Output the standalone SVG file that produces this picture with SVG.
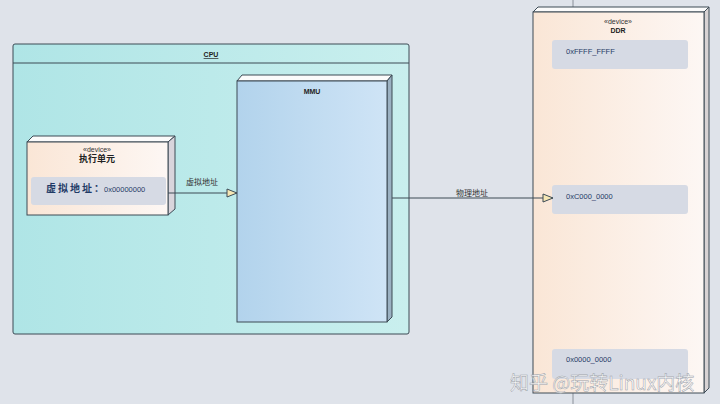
<svg xmlns="http://www.w3.org/2000/svg" width="720" height="404" viewBox="0 0 720 404">
<defs>
<linearGradient id="gCpu" x1="0" y1="0" x2="1" y2="0"><stop offset="0" stop-color="#afe5e6"/><stop offset="1" stop-color="#c9efee"/></linearGradient>
<linearGradient id="gMmu" x1="0" y1="0" x2="1" y2="0"><stop offset="0" stop-color="#b2d3ec"/><stop offset="1" stop-color="#cfe4f6"/></linearGradient>
<linearGradient id="gDev" x1="0" y1="0" x2="1" y2="0"><stop offset="0" stop-color="#fae6d6"/><stop offset="1" stop-color="#fdf7f4"/></linearGradient>
<marker id="tri" markerWidth="12" markerHeight="10" refX="11" refY="5" orient="auto" markerUnits="userSpaceOnUse"><path d="M1,1 L11,5 L1,9 Z" fill="#f6e7b4" stroke="#3c4a55" stroke-width="1"/></marker>
<style>
.edge{stroke:#3c4a55;stroke-width:1;fill:none}
.top{fill:#fbfbfb;stroke:#3c4a55;stroke-width:1}
.side{stroke:#3c4a55;stroke-width:1}
.s{font-family:"Liberation Sans","Noto Sans CJK SC",sans-serif;font-size:7px;fill:#333;text-anchor:middle}
.b{font-family:"Noto Sans CJK SC","Liberation Sans",sans-serif;font-weight:bold;fill:#222;text-anchor:middle}
.slot{fill:#d6dae4}
.addr{font-family:"Liberation Sans",sans-serif;font-size:7.5px;fill:#1f3a66}
.lbl{font-family:"Noto Sans CJK SC",sans-serif;font-size:8px;fill:#333;text-anchor:middle}
</style>
</defs>
<rect width="720" height="404" fill="#dfe3ea"/>
<line x1="573" y1="0" x2="573" y2="8" stroke="#8a9099"/>
<line x1="573" y1="393" x2="573" y2="404" stroke="#8a9099"/>

<g id="cpu">
<rect x="13" y="44" width="396" height="290" rx="2" fill="url(#gCpu)" stroke="#3c4a55"/>
<line x1="13" y1="63" x2="409" y2="63" stroke="#3c4a55"/>
<text x="211" y="57" font-family="Liberation Sans,sans-serif" font-size="7px" font-weight="bold" fill="#222" text-anchor="middle" text-decoration="underline">CPU</text>
</g>

<g id="mmu">
<path d="M237,81 L242,75 L392,75 L387,81 Z" class="top"/>
<path d="M387,81 L392,75 L392,317 L387,322 Z" fill="#9bb1c2" class="side"/>
<rect x="237" y="81" width="150" height="241" fill="url(#gMmu)" stroke="#3c4a55"/>
<text x="312" y="94" font-family="Liberation Sans,sans-serif" font-size="7px" font-weight="bold" fill="#222" text-anchor="middle">MMU</text>
</g>

<g id="exec">
<path d="M27,142 L33,136 L175,136 L168,142 Z" class="top"/>
<path d="M168,142 L175,136 L175,209 L168,215 Z" fill="#d9d5dc" class="side"/>
<rect x="27" y="142" width="141" height="73" fill="url(#gDev)" stroke="#3c4a55"/>
<text x="97" y="152" class="s">«device»</text>
<text x="97" y="162" class="b" font-size="9px">执行单元</text>
<rect x="31" y="177" width="135" height="28" rx="3" class="slot"/>
<text x="46" y="192" font-family="Noto Sans CJK SC,sans-serif" font-size="10px" font-weight="bold" fill="#1f3a66" letter-spacing="2">虚拟地址：</text>
<text x="104" y="192" class="addr">0x00000000</text>
</g>

<g id="ddr">
<path d="M533,12 L538,7 L709,7 L704,12 Z" class="top"/>
<path d="M704,12 L709,7 L709,388 L704,393 Z" fill="#d8d3d4" class="side"/>
<rect x="533" y="12" width="171" height="381" fill="url(#gDev)" stroke="#3c4a55"/>
<text x="618" y="24" class="s">«device»</text>
<text x="618" y="33" font-family="Liberation Sans,sans-serif" font-size="7px" font-weight="bold" fill="#222" text-anchor="middle">DDR</text>
<rect x="552" y="40" width="136" height="29" rx="3" class="slot"/>
<text x="566" y="54" class="addr">0xFFFF_FFFF</text>
<rect x="552" y="185" width="136" height="29" rx="3" class="slot"/>
<text x="566" y="199" class="addr">0xC000_0000</text>
<rect x="552" y="349" width="136" height="30" rx="3" class="slot"/>
<text x="566" y="362" class="addr">0x0000_0000</text>
</g>

<g id="connectors">
<line x1="168" y1="193" x2="237" y2="193" class="edge" marker-end="url(#tri)"/>
<text x="202" y="185" class="lbl">虚拟地址</text>
<line x1="392" y1="198" x2="553" y2="198" class="edge" marker-end="url(#tri)"/>
<text x="472" y="196" class="lbl">物理地址</text>
</g>

<text x="510" y="390" font-family="Noto Sans CJK SC,sans-serif" font-size="19px" fill="#ffffff" fill-opacity="0.85" stroke="#9aa0a8" stroke-width="0.5">知乎 @玩转Linux内核</text>
</svg>
